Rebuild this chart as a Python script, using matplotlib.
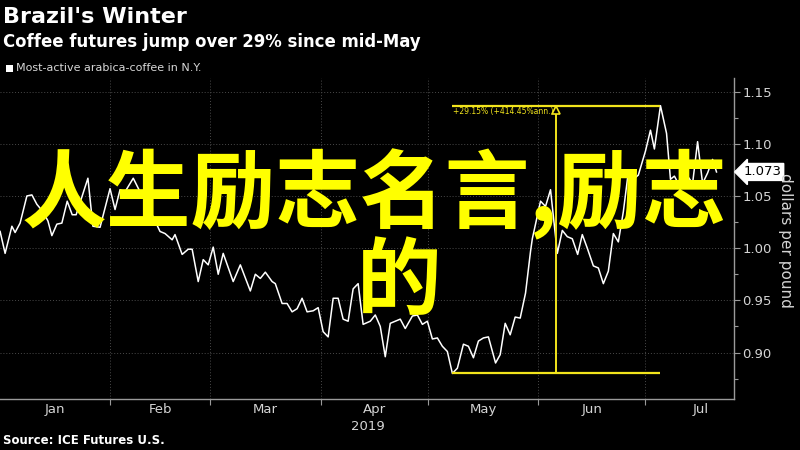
import matplotlib
matplotlib.use('Agg')
import matplotlib.pyplot as plt
from matplotlib import font_manager, transforms
from matplotlib.patches import Rectangle

# ---------------- data ----------------
# x = day of 2019 (Jan 1 = 0), y = dollars per pound
days = [0.2, 1.6, 3.5, 4.4, 5.8, 7.7, 9.1, 10.5, 12.2, 13.6, 14.7, 16.1, 17.5, 19.0,
        20.4, 21.5, 24.8, 26.2, 28.2, 31.0, 32.4, 33.8, 35.2, 37.5, 39.4, 41.4, 45.0,
        46.4, 48.4, 49.2, 51.2, 52.9, 54.0, 55.7, 57.1, 58.5, 59.9, 61.3, 62.7, 65.5,
        67.5, 70.3, 71.7, 73.1, 74.5, 76.4, 77.3, 79.2, 80.6, 82.0, 83.4, 84.8, 86.2,
        87.9, 89.3, 90.7, 92.1, 93.5, 94.9, 96.3, 97.7, 99.1, 100.5, 101.9, 103.9,
        105.3, 106.7, 108.1, 109.5, 110.9, 112.3, 113.7, 115.7, 117.1, 118.5, 119.9,
        121.3, 122.7, 124.1, 125.5, 126.9, 128.3, 130.0, 131.4, 132.8, 134.2, 135.6,
        137.0, 139.0, 140.3, 141.7, 143.1, 144.5, 145.9, 147.4, 148.8, 149.3, 151.6,
        153.0, 154.4, 156.3, 157.7, 159.1, 160.5, 162.0, 163.3, 164.7, 166.4, 167.8,
        169.2, 170.6, 172.0, 173.4, 174.8, 176.2, 177.6, 179.0, 181.0, 182.4, 183.5,
        185.2, 186.9, 188.0, 189.1, 190.2, 191.4, 192.8, 194.2, 195.6, 197.0, 198.4,
        199.8, 200.9]
prices = [1.016, 0.995, 1.021, 1.015, 1.024, 1.050, 1.051, 1.042, 1.035, 1.026, 1.012,
          1.023, 1.024, 1.045, 1.032, 1.032, 1.067, 1.021, 1.020, 1.057, 1.037, 1.056,
          1.054, 1.067, 1.054, 1.042, 1.016, 1.014, 1.008, 1.013, 0.994, 0.999, 0.999,
          0.968, 0.989, 0.984, 1.001, 0.975, 0.995, 0.968, 0.984, 0.959, 0.975, 0.971,
          0.977, 0.968, 0.966, 0.947, 0.947, 0.939, 0.942, 0.952, 0.939, 0.940, 0.943,
          0.920, 0.915, 0.952, 0.952, 0.932, 0.930, 0.961, 0.966, 0.927, 0.930, 0.936,
          0.925, 0.896, 0.928, 0.930, 0.932, 0.923, 0.935, 0.936, 0.927, 0.930, 0.913,
          0.914, 0.906, 0.901, 0.880, 0.885, 0.908, 0.906, 0.895, 0.911, 0.914, 0.915,
          0.890, 0.898, 0.928, 0.917, 0.934, 0.933, 0.957, 0.997, 1.009, 1.045, 1.040,
          1.056, 0.995, 1.017, 1.011, 1.009, 0.994, 1.013, 1.000, 0.983, 0.981, 0.966,
          0.978, 1.014, 1.006, 1.035, 1.073, 1.066, 1.070, 1.093, 1.113, 1.095, 1.1365,
          1.110, 1.066, 1.069, 1.062, 1.073, 1.069, 1.062, 1.102, 1.062, 1.072, 1.085,
          1.073]

month_starts = [31, 59, 90, 120, 151, 181]
month_mids = [15.5, 45, 74.5, 105, 135.5, 166, 196.5]
month_labels = ['Jan', 'Feb', 'Mar', 'Apr', 'May', 'Jun', 'Jul']
year_label = '2019'
y_ticks = [0.90, 0.95, 1.00, 1.05, 1.10, 1.15]
y_minor = [0.875, 0.925, 0.975, 1.025, 1.075, 1.125]
y_labels = ['0.90', '0.95', '1.00', '1.05', '1.10', '1.15']

low_day, low_val = 126.9, 0.880
high_day, high_val = 185.2, 1.1365
measure_day = 156.0
last_val = 1.073
measure_text = '+29.15% (+414.45%ann.)'

title = "Brazil's Winter"
subtitle = "Coffee futures jump over 29% since mid-May"
legend_label = "Most-active arabica-coffee in N.Y."
y_title = "dollars per pound"
source = "Source: ICE Futures U.S."
overlay_line1 = "人生励志名言,励志"
overlay_line2 = "的"

# ---------------- fonts ----------------
avail = {f.name for f in font_manager.fontManager.ttflist}
narrow = 'Liberation Sans Narrow' if 'Liberation Sans Narrow' in avail else 'DejaVu Sans'

W, H = 800, 450
def fx(px):
    return px / W
def fy(py):
    return 1 - py / H

fig = plt.figure(figsize=(8, 4.5), dpi=100, facecolor='black')
ax = fig.add_axes([0, fy(399), fx(734), (399 - 78) / H])
ax.set_facecolor('black')
ax.set_xlim(0.17, 205.8)
ax.set_ylim(0.8555, 1.163)

for s in ['left', 'top']:
    ax.spines[s].set_visible(False)
for s in ['right', 'bottom']:
    ax.spines[s].set_color('#9a9a9a')
    ax.spines[s].set_linewidth(1.0)

ax.yaxis.tick_right()
ax.set_yticks(y_ticks)
ax.set_yticklabels(y_labels)
ax.set_yticks(y_minor, minor=True)
ax.tick_params(axis='y', which='major', direction='out', length=4, width=0.8,
               color='#9a9a9a', labelcolor='#d4d4d4', labelsize=9.5, pad=2)
ax.tick_params(axis='y', which='minor', direction='out', length=3, width=0.8,
               color='#9a9a9a')
for lab in ax.get_yticklabels():
    lab.set_family(narrow)

ax.set_xticks(month_starts)
ax.set_xticklabels([''] * len(month_starts))
ax.set_xticks(month_mids, minor=True)
ax.set_xticklabels(month_labels, minor=True)
ax.tick_params(axis='x', which='major', direction='out', length=4, width=0.8,
               color='#9a9a9a')
ax.tick_params(axis='x', which='minor', length=0, labelcolor='#d4d4d4',
               labelsize=9.5, pad=3)
for lab in ax.get_xticklabels(minor=True):
    lab.set_family(narrow)

ax.grid(which='major', color='#4a4a4a', linestyle=(0, (1, 2)), linewidth=0.7)
ax.set_axisbelow(True)

# price line
ax.plot(days, prices, color='white', linewidth=1.1, zorder=3)

# measurement annotation
yel = '#f2e41c'
ax.hlines([low_val, high_val], low_day, high_day, color=yel, linewidth=1.6, zorder=4)
ax.vlines(measure_day, low_val, high_val, color=yel, linewidth=1.4, zorder=4)
tri_tr = transforms.offset_copy(ax.transData, fig=fig, x=0, y=-4, units='dots')
ax.plot([measure_day], [high_val], marker='^', markersize=6, markerfacecolor='black',
        markeredgecolor=yel, markeredgewidth=1.2, transform=tri_tr, zorder=5)
txt_tr = transforms.offset_copy(ax.transData, fig=fig, x=1, y=-6, units='dots')
ax.text(low_day, high_val, measure_text, color=yel, fontsize=5.5,
        ha='left', va='center', transform=txt_tr, zorder=5)

# last value label
ax.annotate(f'{last_val:.3f}', xy=(1.0, last_val), xycoords=('axes fraction', 'data'),
            xytext=(7, 0), textcoords='offset points', ha='left', va='center',
            color='black', fontsize=9.5, family=narrow,
            bbox=dict(boxstyle='larrow,pad=0.15', fc='white', ec='white'),
            annotation_clip=False, zorder=6)

# year label
fig.text(fx(368), fy(427), year_label, color='#d4d4d4', fontsize=9.5,
         family=narrow, ha='center', va='center')

# y title
fig.text(fx(785), fy(240), y_title, rotation=270, color='#d4d4d4', fontsize=11,
         family=narrow, ha='center', va='center')

# titles
fig.text(fx(3), fy(17), title, color='white', fontsize=16, fontweight='bold',
         ha='left', va='center')
fig.text(fx(3), fy(42), subtitle, color='white', fontsize=11.9, fontweight='bold',
         ha='left', va='center')
fig.patches.append(Rectangle((fx(6), fy(72)), fx(7), 7 / H, transform=fig.transFigure,
                             facecolor='white', edgecolor='none'))
fig.text(fx(16), fy(68), legend_label, color='#d8d8d8', fontsize=8.0,
         ha='left', va='center')
fig.text(fx(3), fy(441), source, color='white', fontsize=8.5, fontweight='bold',
         ha='left', va='center')

# overlay text
cjk = ['Noto Sans CJK SC', 'DejaVu Sans']
fig.text(fx(374), fy(194), overlay_line1, color='#ffff00', fontsize=61,
         fontweight='bold', family=cjk, ha='center', va='center', zorder=10)
fig.text(fx(399), fy(283), overlay_line2, color='#ffff00', fontsize=61,
         fontweight='bold', family=cjk, ha='center', va='center', zorder=10)

fig.savefig('out.png', dpi=100, facecolor='black')
